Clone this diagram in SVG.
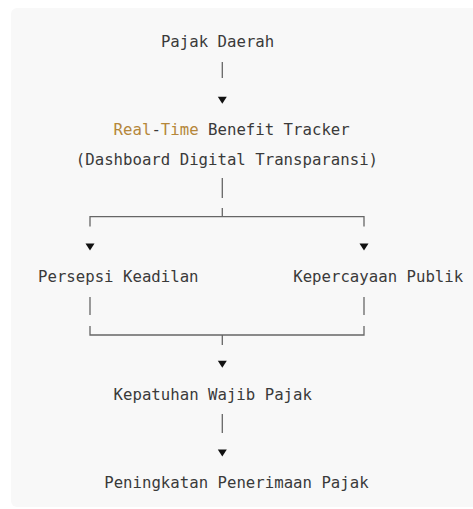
<svg xmlns="http://www.w3.org/2000/svg" width="473" height="509" viewBox="0 0 473 509">
<style>
.t{font-family:"DejaVu Sans Mono","Liberation Mono",monospace;font-size:15.7px;fill:#3a3a3a;white-space:pre}
.k{fill:#b5873a}
.c{stroke:#666;stroke-width:1.3;fill:none}
.a{fill:#111}
</style>
<rect x="11" y="8" width="480" height="499" rx="6" fill="#f8f8f8"/>
<g id="connectors">
<line class="c" x1="222.3" y1="62" x2="222.3" y2="78"/>
<polygon class="a" points="217.8,96.8 226.8,96.8 222.3,103.8"/>
<line class="c" x1="222.3" y1="178" x2="222.3" y2="198"/>
<path class="c" d="M222.3,208 V216.7 M90,226.5 V216.7 H364 V226.5"/>
<polygon class="a" points="85.5,243.5 94.5,243.5 90,250.5"/>
<polygon class="a" points="359.5,243.5 368.5,243.5 364,250.5"/>
<line class="c" x1="90" y1="297" x2="90" y2="315"/>
<line class="c" x1="364" y1="297" x2="364" y2="315"/>
<path class="c" d="M90,326 V335 H364 V326 M222.3,335 V345"/>
<polygon class="a" points="217.8,360.8 226.8,360.8 222.3,367.8"/>
<line class="c" x1="222.3" y1="414" x2="222.3" y2="433"/>
<polygon class="a" points="217.8,449.5 226.8,449.5 222.3,456.5"/>
</g>
<g id="pajak-daerah"><text class="t" x="160.9" y="47">Pajak Daerah</text></g>
<g id="tracker"><text class="t" x="113.6" y="135.2"><tspan class="k">Real</tspan>-<tspan class="k">Time</tspan> Benefit Tracker</text>
<text class="t" x="75.8" y="164.6">(Dashboard Digital Transparansi)</text></g>
<g id="persepsi"><text class="t" x="38" y="282.2">Persepsi Keadilan</text></g>
<g id="kepercayaan"><text class="t" x="293.2" y="282.2">Kepercayaan Publik</text></g>
<g id="kepatuhan"><text class="t" x="113.6" y="399.8">Kepatuhan Wajib Pajak</text></g>
<g id="peningkatan"><text class="t" x="104.2" y="488">Peningkatan Penerimaan Pajak</text></g>
</svg>
